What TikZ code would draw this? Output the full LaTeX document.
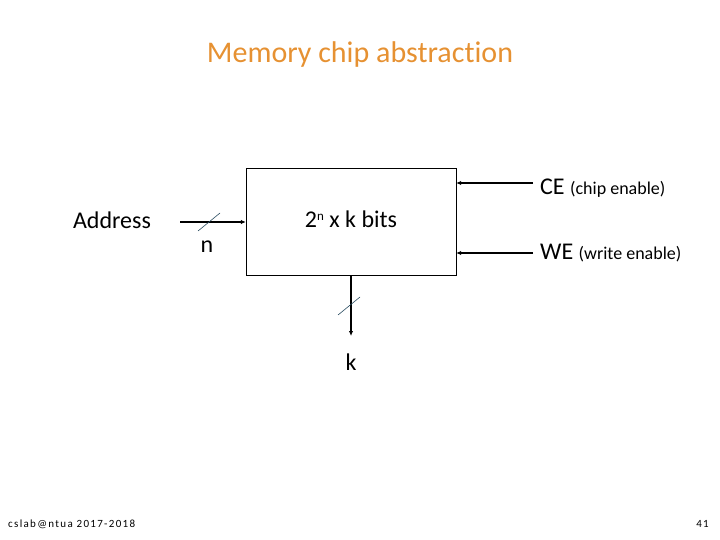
\documentclass[tikz,border=0pt]{standalone}
\usepackage{fontspec}
\setmainfont{Carlito}[Ligatures=NoCommon]
\usetikzlibrary{arrows.meta, positioning, calc}
\definecolor{titleorange}{RGB}{230,145,50}
\definecolor{slashblue}{RGB}{40,75,95}

\begin{document}
\begin{tikzpicture}[
      x=1pt, y=-1pt,
      chip/.style={rectangle, draw, thin, minimum width=210pt, minimum height=107pt,
                   inner sep=0pt},
      txt/.style={font=\fontsize{24}{28}\selectfont, inner sep=0pt},
      arrow/.style={-{Latex[length=5pt, width=4.5pt]}, line width=1.4pt},
      slash/.style={draw=slashblue, semithick},
      footer/.style={font=\fontsize{11}{12}\selectfont\addfontfeatures{LetterSpace=12}, inner sep=0pt}
    ]
    \useasboundingbox (0,0) rectangle (720,540);
    \node[txt, font=\fontsize{30}{34}\selectfont, text=titleorange, anchor=base] (title) at (360,63) {Memory chip abstraction};
    \node[chip] (mem) at (351,221.5) {};
    \node[txt, anchor=base] (bits) at (351,227) {2{\fontsize{13}{14}\selectfont\raisebox{6pt}{n}} x k bits};
    % address input
    \node[txt, anchor=base] (addr) at (112,229) {Address};
    \coordinate (ain) at (180,222);
    \draw[arrow] (ain) -- (ain -| mem.west);
    \coordinate (nslash) at (209,222);
    \draw[slash] ($(nslash)+(-11,9)$) -- ($(nslash)+(11,-9)$);
    \node[txt, anchor=base] (n) at (207,252) {n};
    % control inputs
    \coordinate (cein) at (533,183);
    \draw[arrow] (cein) -- (cein -| mem.east);
    \node[txt, anchor=base west] (ce) at (540,195) {CE {\fontsize{18}{20}\selectfont(chip enable)}};
    \coordinate (wein) at (533,253);
    \draw[arrow] (wein) -- (wein -| mem.east);
    \node[txt, anchor=base west] (we) at (540,259) {WE {\fontsize{18}{20}\selectfont(write enable)}};
    % data output
    \coordinate (kout) at (351,336);
    \draw[arrow] (mem.south) -- (kout);
    \coordinate (kslash) at (349,306);
    \draw[slash] ($(kslash)+(-11,9)$) -- ($(kslash)+(11,-9)$);
    \node[txt, anchor=base] (k) at (351,370) {k};
    % footer
    \node[footer, anchor=base west] (src) at (8,527) {cslab@ntua 2017-2018};
    \node[footer, anchor=base east] (page) at (709,527) {41};
\end{tikzpicture}
\end{document}
